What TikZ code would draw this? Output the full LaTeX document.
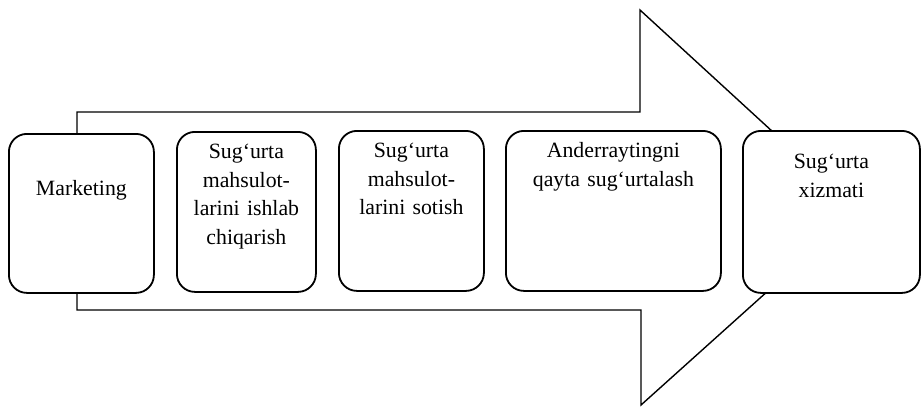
\documentclass[tikz,border=0pt]{standalone}
\usepackage{fontspec}
\setmainfont{Liberation Serif}
\usepackage{tikz}
\usetikzlibrary{positioning}

\begin{document}
\begin{tikzpicture}[x=0.5pt, y=-0.5pt,
    every node/.style={font=\fontsize{10.9}{14.25}\selectfont},
    stage/.style={draw, line width=0.9pt, rounded corners=9pt, fill=white, anchor=north west, inner sep=0pt, align=center}]
    \useasboundingbox (0,0) rectangle (921,408);
    % big arrow behind the stages
    \draw[line width=0.7pt, fill=white] (77,112) -- (640,112) -- (640,10) -- (858,210) -- (641,405) -- (641,310) -- (77,310) -- cycle;
    \node[stage, text width=72.5pt, minimum height=79.5pt, text height=31pt, text depth=48.5pt] (mkt) at (8,133) {Marketing};
    \node[stage, text width=69.5pt, text height=13.5pt, text depth=66.5pt] (ishlab) at (176,131) {Sug‘urta\\mahsulot-\\larini ishlab\\chiqarish};
    \node[stage, text width=72.5pt, text height=13.5pt, text depth=66.5pt] (sotish) at (338,130) {Sug‘urta\\mahsulot-\\larini sotish};
    \node[stage, text width=107.5pt, text height=13.5pt, text depth=66.5pt] (qayta) at (505,130) {Anderraytingni\\qayta sug‘urtalash};
    \node[stage, text width=88.5pt, text height=19pt, text depth=62pt] (xizmat) at (742,130) {Sug‘urta\\xizmati};
\end{tikzpicture}
\end{document}
